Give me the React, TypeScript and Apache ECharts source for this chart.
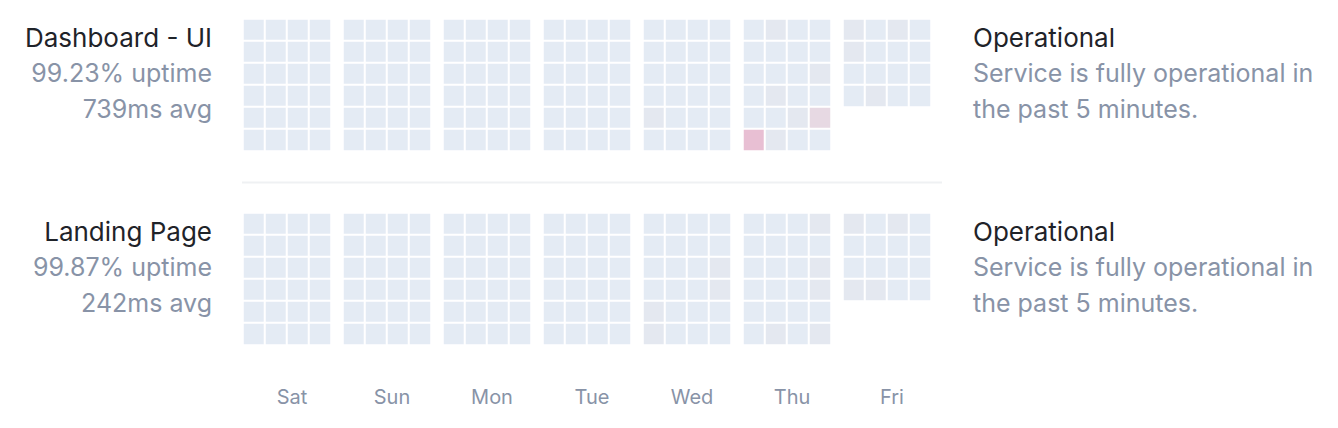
import React, { useEffect, useRef } from "react";
import * as echarts from "echarts";

const days = ["Sat", "Sun", "Mon", "Tue", "Wed", "Thu", "Fri"];
const services = ["Dashboard - UI", "Landing Page"];
const uptimes = ["99.23% uptime", "99.87% uptime"];
const avgs = ["739ms avg", "242ms avg"];
const statusTitles = ["Operational", "Operational"];
const statusLine1 = ["Service is fully operational in", "Service is fully operational in"];
const statusLine2 = ["the past 5 minutes.", "the past 5 minutes."];

// hourly levels per day, row-major (4 columns per row). 0 ok, 1 minor, 2 degraded, 3 outage
const dashboardLevels: number[][] = [
  [0,0,0,0, 0,0,0,0, 0,0,0,0, 0,0,0,0, 0,0,0,0, 0,0,0,0],
  [0,0,0,0, 0,0,0,0, 0,0,0,0, 0,0,0,0, 0,0,0,0, 0,0,0,0],
  [0,0,0,0, 0,0,0,0, 0,0,0,0, 0,0,0,0, 0,0,0,0, 0,0,0,0],
  [0,0,0,0, 0,0,0,0, 0,0,0,0, 0,0,0,0, 0,0,0,0, 0,0,0,0],
  [0,0,0,0, 0,0,0,0, 0,0,0,0, 0,0,0,0, 1,0,0,0, 0,0,0,0],
  [0,1,0,0, 0,0,0,0, 0,0,0,1, 0,1,0,0, 0,0,1,2, 3,1,0,0],
  [1,0,1,0, 1,0,0,0, 0,0,0,0, 0,1,0,0],
];
const landingLevels: number[][] = [
  [0,0,0,0, 0,0,0,0, 0,0,0,0, 0,0,0,0, 0,0,0,0, 0,0,0,0],
  [0,0,0,0, 0,0,0,0, 0,0,0,0, 0,0,0,0, 0,0,0,0, 0,0,0,0],
  [0,0,0,0, 0,0,0,0, 0,0,0,0, 0,0,0,0, 0,0,0,0, 0,0,0,0],
  [0,0,0,0, 0,0,0,0, 0,0,0,0, 0,0,0,0, 0,0,0,0, 0,0,0,0],
  [0,0,0,0, 0,0,0,0, 0,0,0,1, 0,0,0,1, 1,0,0,0, 1,0,0,0],
  [0,0,0,1, 0,0,0,0, 0,0,0,1, 0,0,0,1, 0,0,0,0, 0,1,0,1],
  [1,0,1,0, 0,0,0,0, 0,0,0,0, 1,1,0,0],
];
const allLevels = [dashboardLevels, landingLevels];
const columns = ["0", "1", "2", "3"];
const rows = ["0", "1", "2", "3", "4", "5"];

const levelColors = ["#e4ebf4", "#e4e8f0", "#e7d9e3", "#e8bfd3"];

export default function App() {
  const ref = useRef<HTMLDivElement>(null);
  useEffect(() => {
    if (!ref.current) return;
    const chart = echarts.init(ref.current, null, { renderer: "svg" });
    const grid: any[] = [];
    const xAxis: any[] = [];
    const yAxis: any[] = [];
    const series: any[] = [];
    const graphic: any[] = [];
    const font = "Inter, 'Noto Sans', sans-serif";
    const dark = "#1f2329";
    const gray = "#8893a7";

    allLevels.forEach((levels, p) => {
      const top = 19 + p * 194;
      levels.forEach((hours, d) => {
        const idx = grid.length;
        grid.push({ left: 243 + d * 100, top, width: 88, height: 132 });
        xAxis.push({ type: "category", gridIndex: idx, data: columns, show: false });
        yAxis.push({ type: "category", gridIndex: idx, data: rows, inverse: true, show: false });
        series.push({
          type: "heatmap",
          xAxisIndex: idx,
          yAxisIndex: idx,
          data: hours.map((v, i) => [i % 4, Math.floor(i / 4), v]),
          itemStyle: { borderColor: "#ffffff", borderWidth: 2 },
          emphasis: { disabled: true },
        });
      });
      const cy = 37 + p * 194;
      const t = (text: string, x: number, y: number, fill: string, align: string, size: number) => ({
        type: "text", x, y,
        style: { text, fill, font: `${size}px ${font}`, textAlign: align, textVerticalAlign: "middle" },
      });
      graphic.push(
        t(services[p], 212, cy, dark, "right", 26),
        t(uptimes[p], 212, cy + 36, gray, "right", 25),
        t(avgs[p], 212, cy + 72, gray, "right", 25),
        t(statusTitles[p], 973, cy, dark, "left", 26),
        t(statusLine1[p], 973, cy + 36, gray, "left", 25),
        t(statusLine2[p], 973, cy + 72, gray, "left", 25)
      );
    });

    graphic.push({ type: "line", shape: { x1: 242, y1: 182.5, x2: 942, y2: 182.5 }, style: { stroke: "#eff1f3", lineWidth: 2 } });
    days.forEach((d, i) => {
      graphic.push({ type: "text", x: 292 + i * 100, y: 397, style: { text: d, fill: gray, font: `20px ${font}`, textAlign: "center", textVerticalAlign: "middle" } });
    });

    chart.setOption({
      animation: false,
      backgroundColor: "#ffffff",
      grid,
      xAxis,
      yAxis,
      visualMap: {
        type: "piecewise",
        show: false,
        dimension: 2,
        seriesIndex: series.map((_, i) => i),
        pieces: levelColors.map((c, i) => ({ value: i, color: c })),
      },
      series,
      graphic,
    });
    return () => chart.dispose();
  }, []);
  return <div ref={ref} style={{ position: "fixed", left: 0, top: 0, width: 1338, height: 428 }} />;
}
